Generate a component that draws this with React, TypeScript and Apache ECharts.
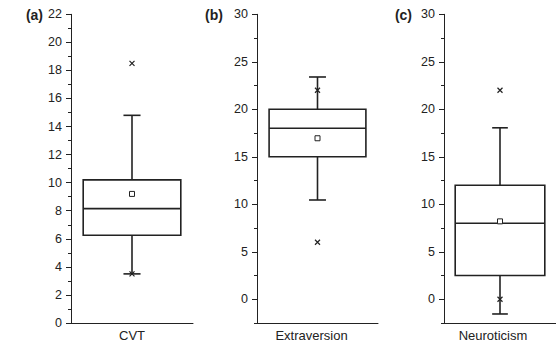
import { useEffect, useRef } from "react";
import * as echarts from "echarts";

// Panel tags and category names
const panelTags = ["(a)", "(b)", "(c)"];
const categories = ["CVT", "Extraversion", "Neuroticism"];

// Box statistics: [lower whisker, Q1, median, Q3, upper whisker]
const boxCVT = [3.5, 6.25, 8.15, 10.2, 14.8];
const boxExtraversion = [10.45, 15, 18, 20, 23.4];
const boxNeuroticism = [-1.55, 2.5, 8, 12, 18.05];

// Means (hollow squares)
const means = [9.2, 16.95, 8.2];

// Extreme points (crosses)
const extremesCVT = [3.5, 18.5];
const extremesExtraversion = [6, 22];
const extremesNeuroticism = [0, 22];

// Tick values
const ticksCVT = [0, 2, 4, 6, 8, 10, 12, 14, 16, 18, 20, 22];
const minorTicksCVT = [1, 3, 5, 7, 9, 11, 13, 15, 17, 19, 21];
const ticksScore = [0, 5, 10, 15, 20, 25, 30];
const minorTicksScore = [-2.5, 2.5, 7.5, 12.5, 17.5, 22.5, 27.5];

const INK = "#222";
const FONT = "'Liberation Sans', Arial, Helvetica, sans-serif";

const boxes = [boxCVT, boxExtraversion, boxNeuroticism];
const extremes = [extremesCVT, extremesExtraversion, extremesNeuroticism];
const ranges = [
  { min: 0, max: 22, major: ticksCVT, minor: minorTicksCVT },
  { min: -2.5, max: 30, major: ticksScore, minor: minorTicksScore },
  { min: -2.5, max: 30, major: ticksScore, minor: minorTicksScore },
];
const gridLefts = [71, 257, 444];
const gridWidths = [122, 121, 120];
const labelShift = [0, 12, 14];
const tagRight = [43, 223, 412];

export default function App() {
  const ref = useRef<HTMLDivElement>(null);

  useEffect(() => {
    if (!ref.current) return;
    const chart = echarts.init(ref.current, undefined, { renderer: "svg" });

    const grid = gridLefts.map((left, i) => ({
      left,
      top: 14.3,
      width: gridWidths[i],
      height: 308.7,
      containLabel: false,
    }));

    const xAxis = categories.map((c, i) => ({
      type: "category" as const,
      gridIndex: i,
      data: [c],
      position: "bottom",
      axisLine: { show: true, onZero: false, lineStyle: { color: INK, width: 1 } },
      axisTick: { show: false },
      axisLabel: {
        color: INK,
        fontSize: 13,
        fontFamily: FONT,
        margin: 6,
        padding: [0, labelShift[i], 0, 0],
      },
      splitLine: { show: false },
    }));

    const yAxis: any[] = [];
    ranges.forEach((r, i) => {
      yAxis.push({
        type: "value",
        gridIndex: i,
        min: r.min,
        max: r.max,
        position: "left",
        axisLine: { show: true, onZero: false, lineStyle: { color: INK, width: 1 } },
        axisTick: {
          show: true,
          length: 5,
          customValues: r.major,
          lineStyle: { color: INK, width: 1 },
        },
        axisLabel: {
          color: INK,
          fontSize: 12.5,
          fontFamily: FONT,
          margin: 9,
          customValues: r.major,
        },
        splitLine: { show: false },
      });
      yAxis.push({
        type: "value",
        gridIndex: i,
        min: r.min,
        max: r.max,
        position: "left",
        axisLine: { show: false, onZero: false },
        axisTick: {
          show: true,
          length: 3,
          customValues: r.minor,
          lineStyle: { color: INK, width: 1 },
        },
        axisLabel: { show: false },
        splitLine: { show: false },
      });
    });

    const series: any[] = [];
    boxes.forEach((b, i) => {
      series.push({
        type: "custom",
        xAxisIndex: i,
        yAxisIndex: i * 2,
        data: [[0, ...b]],
        encode: { x: 0, y: [1, 2, 3, 4, 5] },
        renderItem: (_params: any, api: any) => {
          const cat = api.value(0);
          const pLo = api.coord([cat, api.value(1)]);
          const pQ1 = api.coord([cat, api.value(2)]);
          const pMed = api.coord([cat, api.value(3)]);
          const pQ3 = api.coord([cat, api.value(4)]);
          const pHi = api.coord([cat, api.value(5)]);
          const band = api.size([1, 0])[0];
          const half = band * 0.4;
          const cap = band * 0.07;
          const x = pMed[0];
          const st = { stroke: INK, lineWidth: 1.6, fill: "none" };
          return {
            type: "group",
            children: [
              { type: "line", shape: { x1: x, y1: pLo[1], x2: x, y2: pQ1[1] }, style: st },
              { type: "line", shape: { x1: x, y1: pQ3[1], x2: x, y2: pHi[1] }, style: st },
              { type: "line", shape: { x1: x - cap, y1: pLo[1], x2: x + cap, y2: pLo[1] }, style: st },
              { type: "line", shape: { x1: x - cap, y1: pHi[1], x2: x + cap, y2: pHi[1] }, style: st },
              {
                type: "rect",
                shape: { x: x - half, y: pQ3[1], width: half * 2, height: pQ1[1] - pQ3[1] },
                style: st,
              },
              { type: "line", shape: { x1: x - half, y1: pMed[1], x2: x + half, y2: pMed[1] }, style: st },
            ],
          };
        },
        z: 2,
      });
      series.push({
        type: "scatter",
        xAxisIndex: i,
        yAxisIndex: i * 2,
        data: [[0, means[i]]],
        symbol: "rect",
        symbolSize: 5,
        itemStyle: { color: "#fff", borderColor: INK, borderWidth: 1, opacity: 1 },
        z: 3,
      });
      series.push({
        type: "scatter",
        xAxisIndex: i,
        yAxisIndex: i * 2,
        data: extremes[i].map((v) => [0, v]),
        symbol: "path://M0,0L10,10M10,0L0,10",
        symbolSize: 5,
        itemStyle: { color: "none", borderColor: INK, borderWidth: 1.2, opacity: 1 },
        z: 3,
      });
    });

    const graphic = panelTags.map((t, i) => ({
      type: "text",
      x: tagRight[i],
      y: 14.5,
      style: {
        text: t,
        fill: INK,
        font: `bold 14px ${FONT}`,
        textAlign: "right",
        textVerticalAlign: "middle",
      },
    }));

    chart.setOption({
      animation: false,
      backgroundColor: "#fff",
      grid,
      xAxis,
      yAxis,
      series,
      graphic,
    });

    return () => chart.dispose();
  }, []);

  return (
    <div
      ref={ref}
      style={{ position: "fixed", left: 0, top: 0, width: 556, height: 357 }}
    />
  );
}
